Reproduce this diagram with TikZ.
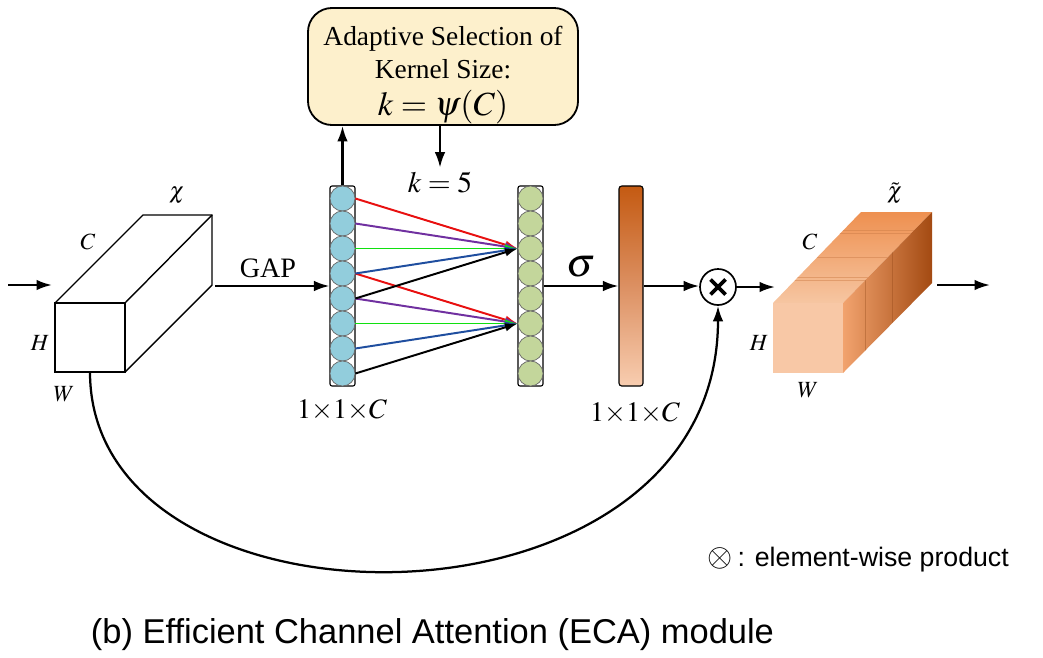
\documentclass[tikz,border=0pt]{standalone}
\usepackage{mathptmx}
\usepackage{fontspec}
\setmainfont{Liberation Serif}
\setsansfont{Liberation Sans}
\usetikzlibrary{arrows.meta}

\definecolor{selfill}{HTML}{FDF0CC}
\definecolor{cblue}{HTML}{92CDDC}
\definecolor{cgreen}{HTML}{C3D69B}
\definecolor{lred}{HTML}{E81010}
\definecolor{lpurple}{HTML}{7030A0}
\definecolor{lgreen}{HTML}{10E010}
\definecolor{lblue}{HTML}{1F4E9F}
\definecolor{odark}{HTML}{C45A12}
\definecolor{omid}{HTML}{DC9062}
\definecolor{olight}{HTML}{F8CDB0}
\definecolor{peach}{HTML}{F8C8A6}
\definecolor{otop}{HTML}{EE9050}
\definecolor{ofront}{HTML}{F6C6A2}
\definecolor{oside}{HTML}{F2A36E}
\definecolor{oburnt}{HTML}{E0681C}
\definecolor{obrown}{HTML}{A34A12}

\tikzset{
  arr/.style={line width=1.6pt,-{Latex[length=11pt,width=7.5pt]}},
  conv/.style={line width=1.4pt,-{Latex[length=9pt,width=6pt]}},
  colbox/.style={draw,line width=0.8pt,rounded corners=1.5pt,minimum width=0.625cm,minimum height=5cm,inner sep=0pt},
  bcirc/.style={draw=black!60,circle,fill=cblue,minimum size=0.625cm,inner sep=0pt,line width=0.5pt},
  gcirc/.style={bcirc,fill=cgreen},
  dimlbl/.style={font=\fontsize{16.5}{16.5}\selectfont},
  biglbl/.style={font=\fontsize{20}{20}\selectfont},
  edgeline/.style={line width=1pt},
}

\begin{document}
\begin{tikzpicture}[x=0.025cm,y=-0.025cm]
  \useasboundingbox (0,0) rectangle (1043,657);

  % input tensor
  \draw[edgeline,fill=white] (55,303) rectangle (125,372);
  \draw[edgeline] (55,303) -- (143,215) -- (212,215) -- (212,285) -- (125,372);
  \draw[edgeline] (125,303) -- (212,215);
  \coordinate (xin) at (52,285);
  \coordinate (xgap) at (215,286);
  \coordinate (xw) at (90,372);
  \draw (177,195) node[dimlbl] (chi) {$\chi$};
  \draw (88,242) node[dimlbl] (lc) {$C$};
  \draw (40,343) node[dimlbl] (lh) {$H$};
  \draw (64,394) node[dimlbl] (lw) {$W$};

  \coordinate (start) at (8,285);
  \draw[arr] (start) -- (xin);

  % pooled and convolved channels
  \draw (342.5,286) node[colbox] (bcol) {};
  \draw (530.5,286) node[colbox] (gcol) {};
  \foreach \i in {0,...,7} {
    \draw (342.5,198.5+25*\i) node[bcirc] (b\i) {};
    \draw (530.5,198.5+25*\i) node[gcirc] (g\i) {};
  }

  \draw[arr] (xgap) -- (bcol.west);
  \draw (268,268) node[biglbl] (gap) {GAP};

  \foreach \c [count=\j from 0, evaluate=\j as \k using int(\j+3)] in {lred,lpurple,lgreen,lblue,black} {
    \draw[conv,\c] (b\j.east) -- (g2.west);
    \draw[conv,\c] (b\k.east) -- (g5.west);
  }

  % kernel size box
  \draw (443,66.5) node[draw,line width=1.3pt,rounded corners=0.6cm,fill=selfill,
    minimum width=6.75cm,minimum height=2.925cm] (sel) {};
  \draw (443,75) node[align=center,font=\fontsize{19.5}{23.5}\selectfont] (seltxt)
    {Adaptive Selection of\\Kernel Size:\\[3pt]{\fontsize{24}{24}\selectfont$k=\psi(C)$}};
  \draw[arr] (bcol.north) -- (bcol.north |- sel.south);
  \draw (440,183) node[font=\fontsize{21}{21}\selectfont] (k5) {$k=5$};
  \draw[arr] (sel.south -| k5) -- (k5.north);

  % sigmoid weights
  \draw (631,286) node[draw,line width=0.8pt,rounded corners=2pt,minimum width=0.6cm,minimum height=5cm,
    top color=odark,bottom color=olight,middle color=omid,inner sep=0pt] (bar) {};
  \draw[arr] (gcol.east) -- (bar.west);
  \draw (581,267) node[font=\fontsize{29}{29}\selectfont] (sig) {$\sigma$};

  \draw (342,410) node[biglbl] (dimb) {$1{\times}1{\times}C$};
  \draw (635,413) node[biglbl] (dimo) {$1{\times}1{\times}C$};

  % product
  \draw (718,287) node[draw,circle,line width=1.2pt,minimum size=0.9cm,inner sep=0pt,
    path picture={\draw[line width=2.6pt] ([shift={(-7.5,-7.5)}]path picture bounding box.center) -- ++(15,15)
      ([shift={(-7.5,7.5)}]path picture bounding box.center) -- ++(15,-15);}] (mul) {};
  \draw[arr] (bar.east) -- (bar.east -| mul.west);
  \draw[arr] (xw) .. controls (90,647) and (718,647) .. (mul.south);

  % output tensor
  \shade[top color=otop,bottom color=ofront] (773,303) -- (861,212) -- (932,212) -- (843,303) -- cycle;
  \begin{scope}
    \clip (773,303) -- (861,212) -- (932,212) -- (843,303) -- cycle;
    \foreach \y in {230,233,257,277,280}
      \draw[otop!85!black,line width=0.6pt,opacity=0.45] (760,\y) -- (940,\y);
  \end{scope}
  \shade[left color=oside,middle color=oburnt,right color=obrown] (843,303) -- (932,212) -- (932,283) -- (843,373) -- cycle;
  \begin{scope}
    \clip (843,303) -- (932,212) -- (932,283) -- (843,373) -- cycle;
    \foreach \x in {865,892}
      \draw[obrown!80!black,line width=0.6pt,opacity=0.3] (\x,200) -- (\x,380);
  \end{scope}
  \fill[peach] (773,303) rectangle (843,373);
  \coordinate (rin) at (775,287);
  \coordinate (rout) at (937,285);
  \coordinate (finish) at (990,285);
  \draw[arr] (mul.east) -- (rin);
  \draw[arr] (rout) -- (finish);
  \draw (895,193) node[dimlbl] (chit) {$\tilde{\chi}$};
  \draw (810,242) node[dimlbl] (rc) {$C$};
  \draw (759,343) node[dimlbl] (rh) {$H$};
  \draw (808,390) node[dimlbl] (rw) {$W$};

  % legend and caption
  \draw (703,560) node[anchor=west,font=\sffamily\fontsize{19}{19}\selectfont] (legend)
    {{\fontsize{23}{23}\selectfont$\otimes$}\,: element-wise product};
  \draw (86,635) node[anchor=west,font=\sffamily\fontsize{24.5}{24.5}\selectfont] (caption) {(b) Efficient Channel Attention (ECA) module};
\end{tikzpicture}
\end{document}
